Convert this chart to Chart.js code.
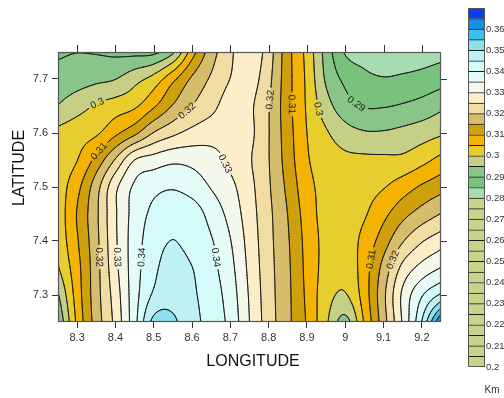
<!DOCTYPE html>
<html><head><meta charset="utf-8">
<script src="https://cdn.jsdelivr.net/npm/chart.js@4.4.1/dist/chart.umd.min.js"></script>
<style>
html,body{margin:0;padding:0;background:#fff;}
#wrap{position:relative;width:504px;height:398px;overflow:hidden;}
#main{position:absolute;left:0;top:0;width:504px;height:398px;}
#bar{position:absolute;left:460px;top:0;width:44px;height:398px;}
</style></head><body>
<div id="wrap"><canvas id="main" width="504" height="398"></canvas><canvas id="bar" width="44" height="398"></canvas></div>
<script>
const longitudes = [8.25,8.30,8.35,8.40,8.45,8.50,8.55,8.60,8.65,8.70,8.75,8.80,8.85,8.90,8.95,9.00,9.05,9.10,9.15,9.20,9.25];
const latitudes  = [7.25,7.30,7.35,7.40,7.45,7.50,7.55,7.60,7.65,7.70,7.75];
const lat775 = [.2893,.2899,.2896,.2889,.2885,.2888,.2940,.3076,.3176,.3240,.3287,.3224,.3118,.3034,.2930,.2845,.2830,.2822,.2820,.2825,.2833];
const lat770 = [.2918,.2928,.2939,.2949,.2982,.3019,.3087,.3158,.3207,.3251,.3272,.3213,.3118,.3040,.2943,.2888,.2862,.2853,.2858,.2866,.2879];
const lat765 = [.2952,.2980,.3005,.3024,.3042,.3093,.3154,.3201,.3235,.3272,.3259,.3203,.3117,.3044,.2971,.2920,.2897,.2897,.2905,.2918,.2939];
const lat760 = [.3012,.3028,.3043,.3089,.3138,.3203,.3239,.3265,.3280,.3283,.3262,.3202,.3122,.3050,.3006,.2971,.2955,.2955,.2964,.2977,.2993];
const lat755 = [.3020,.3049,.3116,.3205,.3300,.3322,.3339,.3335,.3318,.3289,.3255,.3202,.3127,.3056,.3027,.3012,.3010,.3010,.3012,.3035,.3065];
const lat750 = [.3022,.3085,.3179,.3288,.3358,.3385,.3395,.3378,.3347,.3313,.3265,.3206,.3138,.3067,.3035,.3027,.3032,.3047,.3076,.3107,.3132];
const lat745 = [.3018,.3103,.3190,.3294,.3369,.3412,.3435,.3425,.3382,.3333,.3273,.3212,.3149,.3077,.3032,.3025,.3045,.3087,.3134,.3171,.3202];
const lat740 = [.3015,.3095,.3186,.3292,.3375,.3427,.3451,.3429,.3404,.3352,.3281,.3215,.3155,.3084,.3035,.3025,.3066,.3126,.3196,.3246,.3278];
const lat735 = [.2995,.3083,.3181,.3286,.3377,.3438,.3475,.3451,.3415,.3365,.3288,.3218,.3159,.3087,.3032,.3015,.3077,.3167,.3264,.3317,.3352];
const lat730 = [.2945,.3074,.3179,.3274,.3379,.3458,.3485,.3458,.3425,.3376,.3295,.3221,.3161,.3090,.3021,.2996,.3075,.3188,.3310,.3395,.3459];
const lat725 = [.2903,.3061,.3173,.3265,.3383,.3515,.3508,.3466,.3431,.3385,.3300,.3224,.3162,.3095,.3009,.2932,.3056,.3179,.3307,.3453,.3660];

const xTickValues = [8.3,8.4,8.5,8.6,8.7,8.8,8.9,9.0,9.1,9.2];
const xTickLabels = ['8.3','8.4','8.5','8.6','8.7','8.8','8.9','9','9.1','9.2'];
const yTickValues = [7.3,7.4,7.5,7.6,7.7];
const yTickLabels = ['7.3','7.4','7.5','7.6','7.7'];

const bandEdges = [0.200,0.205,0.210,0.215,0.220,0.225,0.230,0.235,0.240,0.245,0.250,0.255,0.260,0.265,0.270,0.275,0.280,0.285,0.290,0.295,0.300,0.305,0.310,0.315,0.320,0.325,0.330,0.335,0.340,0.345,0.350,0.355,0.360,0.365,0.370];
const barTickValues = [0.20,0.21,0.22,0.23,0.24,0.25,0.26,0.27,0.28,0.29,0.30,0.31,0.32,0.33,0.34,0.35,0.36];
const barTickLabels = ['0.2','0.21','0.22','0.23','0.24','0.25','0.26','0.27','0.28','0.29','0.3','0.31','0.32','0.33','0.34','0.35','0.36'];

const labelLon  = [8.351, 8.353, 8.588, 8.692, 8.358, 8.405, 8.465, 8.666, 8.797, 8.862, 8.927, 9.024, 9.076, 9.136];
const labelLat  = [7.657, 7.569, 7.640, 7.545, 7.370, 7.370, 7.370, 7.370, 7.662, 7.653, 7.644, 7.649, 7.365, 7.361];
const labelText = ['0.3','0.31','0.32','0.33','0.32','0.33','0.34','0.34','0.32','0.31','0.3','0.29','0.31','0.32'];

// ---- styles ----
const bandColors = [
 '#c6d589','#c6d589','#c6d589','#c6d589','#c6d589','#c6d589','#c6d589','#c6d589',
 '#c6d589','#c6d589','#c6d589','#c6d589','#c6d589','#c6d589','#c6d589','#c6d589',
 '#a7dbb0','#79c27b','#87c688','#c6cf86','#e8cd2f','#f3b300','#d0a00c','#d6bd6c',
 '#f1dca3','#fdeeca','#f3f8eb','#e4fbf8','#d4fafa','#bdf1f5','#8be2ee','#35c3ee',
 '#138fe6','#093ff0'];
const FONT = "'Liberation Sans', Arial, sans-serif";
Chart.defaults.font.family = FONT;

const probe = document.createElement('canvas').getContext('2d');
probe.font = "11px 'Liberation Sans Narrow', monospace"; const wN = probe.measureText('0.36 0.25').width;
probe.font = "11px monospace"; const wM = probe.measureText('0.36 0.25').width;
const hasNarrow = Math.abs(wN - wM) > 0.5;
const BAR_FONT = hasNarrow ? { family: "'Liberation Sans Narrow', Arial, sans-serif", size: 11 } : { family: FONT, size: 9.5 };

// ---- field sampling (renders the grid through the chart scales) ----
const grid = [lat725, lat730, lat735, lat740, lat745, lat750, lat755, lat760, lat765, lat770, lat775];
const NX = longitudes.length, NY = latitudes.length;
const dLon = longitudes[1]-longitudes[0], dLat = latitudes[1]-latitudes[0];
function nodeVal(i, j) {
  if (i < 0) return 2*nodeVal(0,j) - nodeVal(1,j);
  if (i > NX-1) return 2*nodeVal(NX-1,j) - nodeVal(NX-2,j);
  if (j < 0) return 2*nodeVal(i,0) - nodeVal(i,1);
  if (j > NY-1) return 2*nodeVal(i,NY-1) - nodeVal(i,NY-2);
  return grid[j][i];
}
function cr(p0,p1,p2,p3,t){ return p1 + 0.5*t*((p2-p0) + t*((2*p0-5*p1+4*p2-p3) + t*(3*(p1-p2)+p3-p0))); }
function fieldAt(lon, lat) {
  let gx = (lon - longitudes[0]) / dLon, gy = (lat - latitudes[0]) / dLat;
  gx = Math.max(0, Math.min(NX-1, gx)); gy = Math.max(0, Math.min(NY-1, gy));
  const i = Math.min(Math.floor(gx), NX-2), j = Math.min(Math.floor(gy), NY-2);
  const tx = gx - i, ty = gy - j;
  const r = [];
  for (let m = -1; m <= 2; m++) r.push(cr(nodeVal(i-1,j+m), nodeVal(i,j+m), nodeVal(i+1,j+m), nodeVal(i+2,j+m), tx));
  return cr(r[0], r[1], r[2], r[3], ty);
}
function bandIndex(v){ for (let k = bandEdges.length-2; k >= 0; k--) if (v >= bandEdges[k]) return k; return 0; }
const bandRGB = bandColors.map(c => [parseInt(c.slice(1,3),16), parseInt(c.slice(3,5),16), parseInt(c.slice(5,7),16)]);

const contourPlugin = {
  id: 'contour',
  beforeDatasetsDraw(chart) {
    const ctx = chart.ctx, ca = chart.chartArea, xS = chart.scales.x, yS = chart.scales.y;
    const L = Math.round(ca.left), T = Math.round(ca.top), R = Math.round(ca.right), B = Math.round(ca.bottom);
    const w = R - L, h = B - T;
    const pv = (px, py) => fieldAt(xS.getValueForPixel(px), yS.getValueForPixel(py));
    const off = document.createElement('canvas'); off.width = w; off.height = h;
    const octx = off.getContext('2d'); const img = octx.createImageData(w, h);
    for (let y = 0; y < h; y++) {
      const lat = yS.getValueForPixel(T + y + 0.5);
      for (let x = 0; x < w; x++) {
        const v = fieldAt(xS.getValueForPixel(L + x + 0.5), lat);
        const c = bandRGB[bandIndex(v)], o = (y*w + x)*4;
        img.data[o] = c[0]; img.data[o+1] = c[1]; img.data[o+2] = c[2]; img.data[o+3] = 255;
      }
    }
    octx.putImageData(img, 0, 0);
    ctx.drawImage(off, L, T);

    ctx.font = '10px ' + FONT;
    const labels = labelText.map((txt, k) => {
      const lev = parseFloat(txt);
      let px = xS.getPixelForValue(labelLon[k]), py = yS.getPixelForValue(labelLat[k]);
      let gx = 0, gy = 0;
      for (let it = 0; it < 12; it++) {
        const v = pv(px, py);
        gx = (pv(px+1, py) - pv(px-1, py)) / 2; gy = (pv(px, py+1) - pv(px, py-1)) / 2;
        const g2 = gx*gx + gy*gy; if (g2 < 1e-14) break;
        let sx = -(v - lev) * gx / g2, sy = -(v - lev) * gy / g2;
        const sl = Math.hypot(sx, sy); if (sl > 4) { sx *= 4/sl; sy *= 4/sl; }
        px += sx; py += sy;
      }
      gx = (pv(px+1, py) - pv(px-1, py)) / 2; gy = (pv(px, py+1) - pv(px, py-1)) / 2;
      let ang = Math.atan2(gx, -gy);
      if (ang > Math.PI/2 + 1e-6) ang -= Math.PI; if (ang <= -Math.PI/2 + 1e-6) ang += Math.PI;
      return { px, py, ang, txt, tw: ctx.measureText(txt).width };
    });

    const step = 1.5;
    const nxp = Math.ceil(w/step) + 1, nyp = Math.ceil(h/step) + 1;
    const xs = [], ys = [];
    for (let i = 0; i < nxp; i++) xs.push(Math.min(L + i*step, R));
    for (let j = 0; j < nyp; j++) ys.push(Math.min(T + j*step, B));
    const P = new Float64Array(nxp*nyp);
    for (let j = 0; j < nyp; j++) { const lat = yS.getValueForPixel(ys[j]);
      for (let i = 0; i < nxp; i++) P[j*nxp+i] = fieldAt(xS.getValueForPixel(xs[i]), lat); }

    ctx.save();
    ctx.beginPath();
    ctx.rect(L, T, w, h);
    labels.forEach(lb => {
      const hw = lb.tw/2 + 2.5, hh = 5.5, c = Math.cos(lb.ang), s = Math.sin(lb.ang);
      const pts = [[-hw,-hh],[hw,-hh],[hw,hh],[-hw,hh]].map(([a,b]) => [lb.px + a*c - b*s, lb.py + a*s + b*c]);
      ctx.moveTo(pts[0][0], pts[0][1]); for (let q = 1; q < 4; q++) ctx.lineTo(pts[q][0], pts[q][1]); ctx.closePath();
    });
    ctx.clip('evenodd');
    ctx.strokeStyle = '#1c1c1c'; ctx.lineWidth = 1; ctx.lineCap = 'round'; ctx.lineJoin = 'round';
    for (let k = 1; k < bandEdges.length - 1; k++) {
      const lev = bandEdges[k];
      ctx.beginPath();
      for (let j = 0; j < nyp-1; j++) for (let i = 0; i < nxp-1; i++) {
        const a = P[j*nxp+i], b = P[j*nxp+i+1], c = P[(j+1)*nxp+i+1], d = P[(j+1)*nxp+i];
        const code = (a>lev?8:0)|(b>lev?4:0)|(c>lev?2:0)|(d>lev?1:0);
        if (code === 0 || code === 15) continue;
        const x0 = xs[i], x1 = xs[i+1], y0 = ys[j], y1 = ys[j+1];
        const Tp = () => [x0 + (lev-a)/(b-a)*(x1-x0), y0];
        const Rp = () => [x1, y0 + (lev-b)/(c-b)*(y1-y0)];
        const Bp = () => [x0 + (lev-d)/(c-d)*(x1-x0), y1];
        const Lp = () => [x0, y0 + (lev-a)/(d-a)*(y1-y0)];
        const seg = (p, q) => { ctx.moveTo(p[0], p[1]); ctx.lineTo(q[0], q[1]); };
        switch (code) {
          case 1: case 14: seg(Lp(), Bp()); break;
          case 2: case 13: seg(Bp(), Rp()); break;
          case 3: case 12: seg(Lp(), Rp()); break;
          case 4: case 11: seg(Tp(), Rp()); break;
          case 6: case 9: seg(Tp(), Bp()); break;
          case 7: case 8: seg(Lp(), Tp()); break;
          case 5: seg(Tp(), Rp()); seg(Lp(), Bp()); break;
          case 10: seg(Lp(), Tp()); seg(Bp(), Rp()); break;
        }
      }
      ctx.stroke();
    }
    ctx.restore();

    ctx.save();
    ctx.fillStyle = '#222'; ctx.font = '10px ' + FONT; ctx.textAlign = 'center'; ctx.textBaseline = 'middle';
    labels.forEach(lb => { ctx.save(); ctx.translate(lb.px, lb.py); ctx.rotate(lb.ang); ctx.fillText(lb.txt, 0, 0.5); ctx.restore(); });
    ctx.restore();
  },
  afterDraw(chart) {
    const ctx = chart.ctx, ca = chart.chartArea, xS = chart.scales.x, yS = chart.scales.y;
    const L = Math.round(ca.left), T = Math.round(ca.top), R = Math.round(ca.right), B = Math.round(ca.bottom);
    ctx.save();
    ctx.strokeStyle = '#555'; ctx.lineWidth = 1.2;
    ctx.strokeRect(L + 0.5, T + 0.5, R - L - 1, B - T - 1);
    ctx.strokeStyle = '#333'; ctx.lineWidth = 1;
    ctx.beginPath();
    xTickValues.forEach(v => { const x = Math.round(xS.getPixelForValue(v)) + 0.5; ctx.moveTo(x, T); ctx.lineTo(x, T - 7); });
    yTickValues.forEach(v => { const y = Math.round(yS.getPixelForValue(v)) + 0.5; ctx.moveTo(R, y); ctx.lineTo(R + 6, y); });
    ctx.stroke();
    ctx.fillStyle = '#111';
    ctx.font = '16px ' + FONT; ctx.textAlign = 'center'; ctx.textBaseline = 'middle';
    ctx.fillText('LONGITUDE', 253, 362);
    ctx.translate(20, 168); ctx.rotate(-Math.PI/2);
    ctx.fillText('LATITUDE', 0, 0);
    ctx.restore();
  }
};

const nodePoints = [];
grid.forEach((row, j) => row.forEach((v, i) => nodePoints.push({ x: longitudes[i], y: latitudes[j], v })));

new Chart(document.getElementById('main'), {
  type: 'scatter',
  data: { datasets: [{ data: nodePoints, pointRadius: 0, pointHoverRadius: 0, showLine: false }] },
  options: {
    responsive: false, animation: false, events: [],
    plugins: { legend: { display: false }, tooltip: { enabled: false } },
    layout: { padding: { top: 52, right: 63, left: 0, bottom: 0 } },
    scales: {
      x: {
        type: 'linear', min: 8.25, max: 9.25,
        afterBuildTicks: s => { s.ticks = xTickValues.map(v => ({ value: v })); },
        ticks: { callback: (v, i) => xTickLabels[i], font: { size: 11 }, color: '#333', padding: 3, maxRotation: 0, autoSkip: false },
        grid: { drawOnChartArea: false, drawTicks: true, tickLength: 6, color: '#333' },
        border: { display: false },
        afterFit: s => { s.height = 76; }
      },
      y: {
        type: 'linear', min: 7.25, max: 7.75,
        afterBuildTicks: s => { s.ticks = yTickValues.map(v => ({ value: v })); },
        ticks: { callback: (v, i) => yTickLabels[i], font: { size: 11 }, color: '#333', padding: 4, autoSkip: false },
        grid: { drawOnChartArea: false, drawTicks: true, tickLength: 6, color: '#333' },
        border: { display: false },
        afterFit: s => { s.width = 58; }
      }
    }
  },
  plugins: [contourPlugin]
});

// ---- colour bar ----
const barFrame = {
  id: 'barFrame',
  afterDraw(chart) {
    const ctx = chart.ctx, ca = chart.chartArea;
    ctx.save();
    ctx.strokeStyle = '#555'; ctx.lineWidth = 1;
    ctx.strokeRect(Math.round(ca.left) + 0.5, Math.round(ca.top) + 0.5, Math.round(ca.right - ca.left) - 1, Math.round(ca.bottom - ca.top) - 1);
    ctx.fillStyle = '#333'; ctx.font = '10px ' + FONT; ctx.textAlign = 'center'; ctx.textBaseline = 'middle';
    ctx.fillText('Km', 32, 390);
    ctx.restore();
  }
};
new Chart(document.getElementById('bar'), {
  type: 'bar',
  data: {
    labels: [''],
    datasets: bandColors.map((col, k) => ({
      data: [[bandEdges[k], bandEdges[k+1]]],
      backgroundColor: col, borderColor: '#1a1a1a', borderWidth: 1, borderSkipped: 'start',
      grouped: false, barPercentage: 1, categoryPercentage: 1
    }))
  },
  options: {
    responsive: false, animation: false, events: [],
    plugins: { legend: { display: false }, tooltip: { enabled: false } },
    layout: { padding: { top: 8, bottom: 31, left: 8, right: 0 } },
    scales: {
      x: { display: false },
      y: {
        position: 'right', min: 0.2, max: 0.37,
        afterBuildTicks: s => { s.ticks = barTickValues.map(v => ({ value: v })); },
        ticks: { callback: (v, i) => barTickLabels[i], font: BAR_FONT, color: '#333', padding: 1, autoSkip: false },
        grid: { display: false, drawTicks: false },
        border: { display: false },
        afterFit: s => { s.width = 19; }
      }
    }
  },
  plugins: [barFrame]
});
</script>
</body></html>
